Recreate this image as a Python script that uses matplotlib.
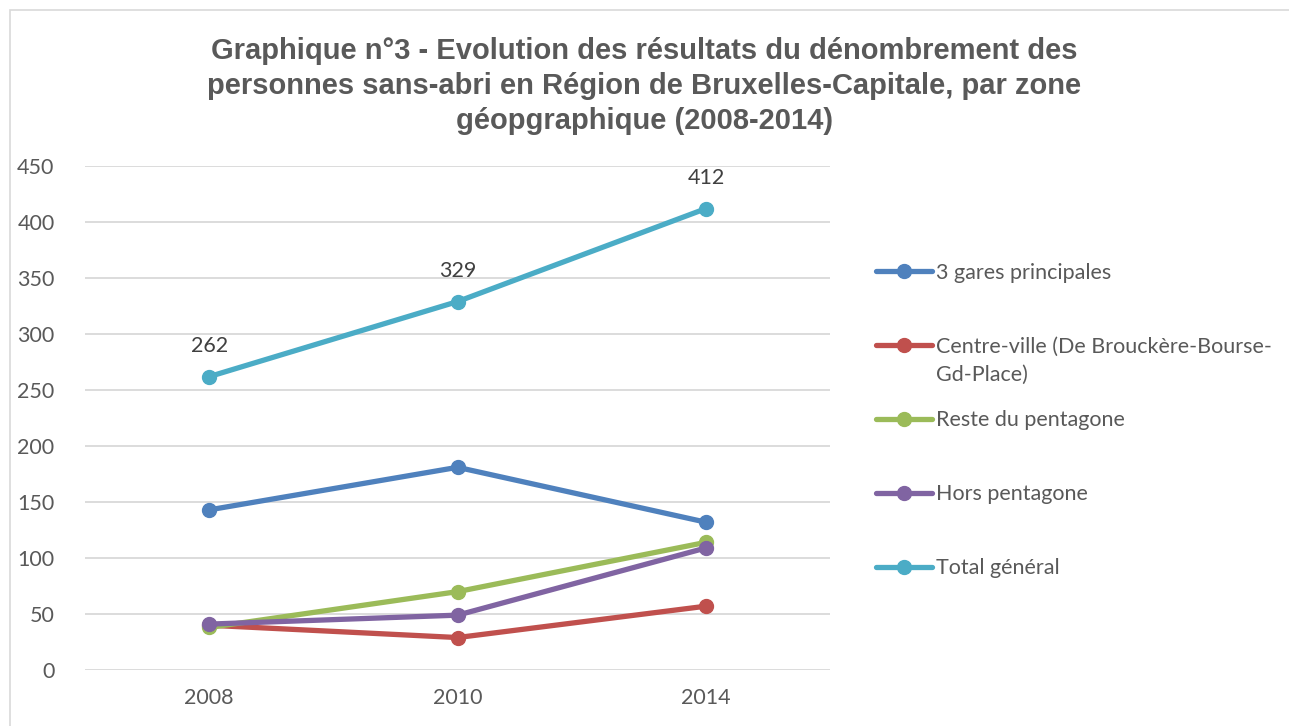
import numpy as np
import matplotlib.pyplot as plt
from matplotlib.patches import Rectangle

# data
years = ["2008", "2010", "2014"]
gares = [143, 181, 132]
centre = [40, 29, 57]
reste = [38, 70, 114]
hors = [41, 49, 109]
total = [262, 329, 412]

labels = ["3 gares principales",
          "Centre-ville (De Brouckère-Bourse-",
          "Reste du pentagone",
          "Hors pentagone",
          "Total général"]
colors = ["#4F81BD", "#C0504D", "#9BBB59", "#8064A2", "#4BACC6"]
yticks = [0, 50, 100, 150, 200, 250, 300, 350, 400, 450]

txt = "#595959"
fs = 15.5
plt.rcParams['font.family'] = ['Lato', 'DejaVu Sans']

fig = plt.figure(figsize=(12.89, 7.26), dpi=100)
fig.patches.append(Rectangle((0.008, -0.01), 1.0, 0.996, transform=fig.transFigure,
                             fill=False, edgecolor="#D9D9D9", linewidth=1.2))

ax = fig.add_axes([0.066, 0.0771, 0.578, 0.6942])
x = np.arange(len(years))
series = [gares, centre, reste, hors, total]
for vals, lab, c in zip(series, labels, colors):
    ax.plot(x, vals, color=c, linewidth=3.8, marker="o", markersize=10,
            solid_capstyle="round", label=lab)

for xi, v in zip(x, total):
    ax.annotate(str(v), (xi, v), xytext=(0, 15), textcoords="offset points",
                ha="center", va="bottom", fontsize=fs, color="#404040")

ax.set_xlim(-0.5, 2.5)
ax.set_ylim(0, 450)
ax.set_yticks(yticks)
ax.set_xticks(x)
ax.set_xticklabels(years)
ax.grid(axis="y", color="#D9D9D9", linewidth=1.3)
ax.set_axisbelow(True)
for s in ax.spines.values():
    s.set_visible(False)
ax.tick_params(axis="both", length=0, labelsize=fs, labelcolor=txt)
ax.tick_params(axis="y", pad=22)
ax.tick_params(axis="x", pad=13)

fig.text(0.5, 1 - 86 / 726,
         "Graphique n°3 - Evolution des résultats du dénombrement des\n"
         "personnes sans-abri en Région de Bruxelles-Capitale, par zone\n"
         "géopgraphique (2008-2014)",
         ha="center", va="center", fontsize=21, fontweight="bold", color=txt,
         family=["Liberation Sans", "DejaVu Sans"], linespacing=1.33)

leg = ax.legend(loc="upper left", bbox_to_anchor=(1.05, 0.825), frameon=False,
                fontsize=fs, labelcolor=txt, handlelength=2.6, handletextpad=0.2,
                labelspacing=2.5, borderaxespad=0)

fig.canvas.draw()
t = leg.get_texts()[1]
bb = t.get_window_extent()
inv = fig.transFigure.inverted()
x0, y0 = inv.transform((bb.x0, bb.y0 - 8))
fig.text(x0, y0, "Gd-Place)", ha="left", va="top", fontsize=fs, color=txt)

fig.savefig("out.png", dpi=100)
